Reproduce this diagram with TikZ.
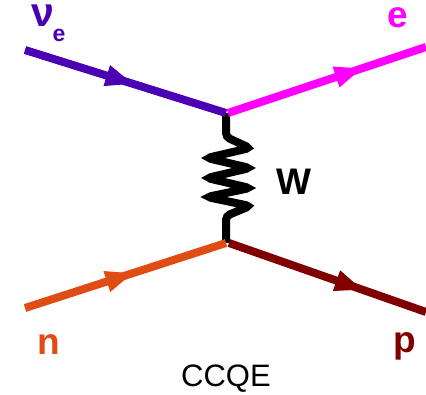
\documentclass[tikz,border=0pt]{standalone}
\usepackage{fontspec}
\setmainfont{Liberation Sans}
\usetikzlibrary{decorations.markings}
\definecolor{nucol}{RGB}{75,0,180}
\definecolor{ecol}{RGB}{255,0,255}
\definecolor{ncol}{RGB}{224,76,22}
\definecolor{pcol}{RGB}{128,0,0}
\tikzset{
  fermion/.style 2 args={draw=#1, line width=8pt,
    postaction={decorate, decoration={markings,
      mark=at position #2 with {\fill[#1] (0,0) -- (-27pt,11pt) -- (-27pt,-11pt) -- cycle;}}}},
  boson/.style={draw=black, line width=8pt, rounded corners=4pt},
  lbl/.style={inner sep=0pt, anchor=base, font=\bfseries\fontsize{37}{40}\selectfont},
  nulbl/.style={inner sep=0pt, anchor=base, font=\bfseries\fontsize{41}{44}\selectfont},
  sublbl/.style={inner sep=0pt, anchor=base, font=\bfseries\fontsize{23}{26}\selectfont},
  captionlbl/.style={inner sep=0pt, anchor=base, font=\fontsize{31}{34}\selectfont}
}
\begin{document}
\begin{tikzpicture}[x=1pt,y=-1pt]
\useasboundingbox (0,0) rectangle (426,395);
\coordinate (vt) at (226,113);
\coordinate (vtr) at (228,113);
\coordinate (vb) at (226,243);
\coordinate (vbr) at (229,243);
\coordinate (nuin) at (25,50);
\coordinate (eout) at (426,47);
\coordinate (nin) at (25,308);
\coordinate (pout) at (426,312);
\draw[boson] (vt) -- (226,137) -- (250,148) -- (207,158) -- (250,168) -- (207,178) -- (250,188) -- (207,197) -- (250,206) -- (226,216) -- (vb);
\draw[fermion={nucol}{0.535}] (nuin) -- (vt);
\draw[fermion={ecol}{0.675}] (vtr) -- (eout);
\draw[fermion={ncol}{0.535}] (nin) -- (vb);
\draw[fermion={pcol}{0.675}] (vbr) -- (pout);
\node[nulbl, text=nucol] (nulab) at (42.5,27) {ν};
\node[sublbl, text=nucol] (nusub) at (59,42) {e};
\node[lbl, text=ecol] (elbl) at (397.5,28) {e};
\node[lbl, text=ncol] (nlbl) at (49,355) {n};
\node[lbl, text=pcol] (plbl) at (405,353) {p};
\node[lbl] (wlbl) at (293.5,195) {W};
\node[captionlbl] (title) at (226,387) {CCQE};
\end{tikzpicture}
\end{document}
